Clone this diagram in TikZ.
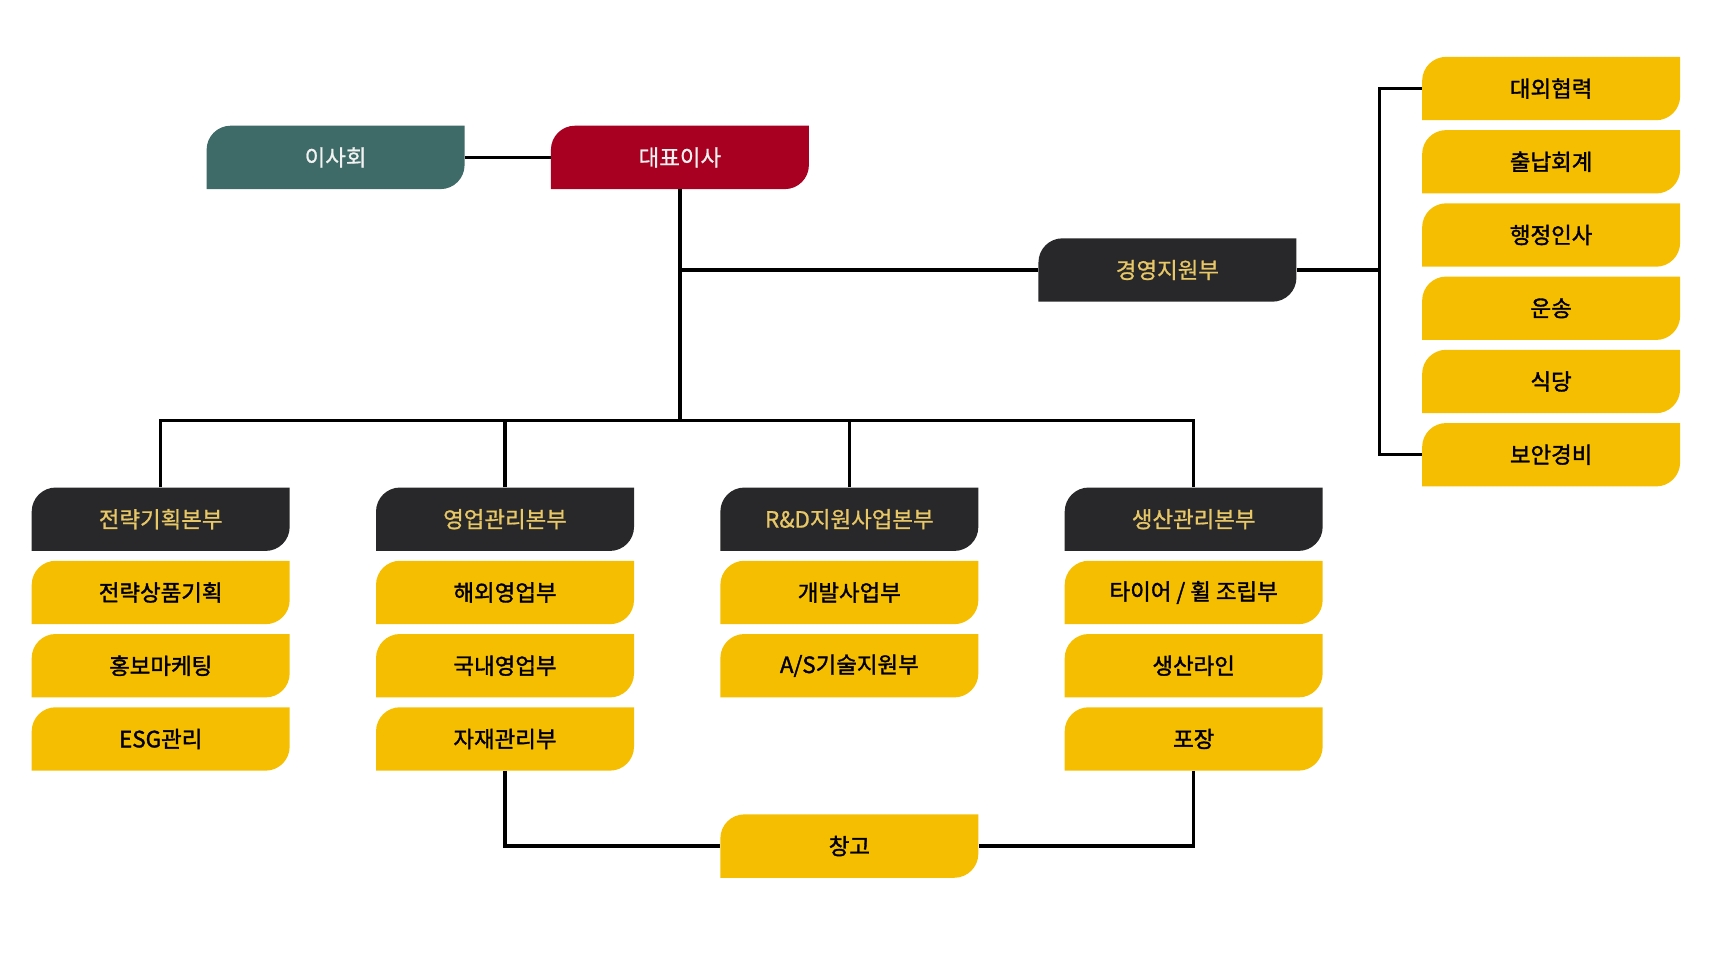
\documentclass[tikz,border=0pt]{standalone}
\usepackage{fontspec}
\setmainfont{Noto Sans CJK KR}
\newfontfamily\ytxt[FakeBold=1.6]{Noto Sans CJK KR}
\newfontfamily\dtxt[FakeBold=0.9]{Noto Sans CJK KR}
\definecolor{ybox}{HTML}{F6BE00}
\definecolor{dbox}{HTML}{28282A}
\definecolor{tbox}{HTML}{3E6A67}
\definecolor{rbox}{HTML}{A80020}
\definecolor{gtext}{HTML}{E8C766}
\definecolor{wtext}{HTML}{F2F2F2}
\tikzset{
  boxtext/.style={inner sep=0pt,minimum width=236pt,minimum height=58pt},
  conn/.style={line width=2.9pt,draw=black}
}
% #1 name, #2 cx, #3 cy (downward), #4 fill, #5 text colour, #6 font family, #7 text
\newcommand\obox[7]{%
  \fill[#4] ({#2-118},{-(#3)-29}) -- ({#2-118},{-(#3)+7}) arc(180:90:22pt) -- ({#2+118},{-(#3)+29}) -- ({#2+118},{-(#3)-7}) arc(0:-90:22pt) -- cycle;
  \node[boxtext,text=#5,font=#6\fontsize{20.5}{24}\selectfont] (#1) at (#2,{-(#3)}) {#7};}
\begin{document}
\begin{tikzpicture}[x=1pt,y=1pt]
\useasboundingbox (0,0) rectangle (1568,-874.6);
% top
\obox{board}{307}{144}{tbox}{wtext}{\dtxt}{이사회}
\obox{ceo}{622}{144}{rbox}{wtext}{\dtxt}{대표이사}
\obox{mgmt}{1068}{247}{dbox}{gtext}{\dtxt}{경영지원부}
% right column
\obox{r1}{1419}{81}{ybox}{black}{\ytxt}{대외협력}
\obox{r2}{1419}{148}{ybox}{black}{\ytxt}{출납회계}
\obox{r3}{1419}{215}{ybox}{black}{\ytxt}{행정인사}
\obox{r4}{1419}{282}{ybox}{black}{\ytxt}{운송}
\obox{r5}{1419}{349}{ybox}{black}{\ytxt}{식당}
\obox{r6}{1419}{416}{ybox}{black}{\ytxt}{보안경비}
% headers
\obox{h1}{147}{475}{dbox}{gtext}{\dtxt}{전략기획본부}
\obox{h2}{462}{475}{dbox}{gtext}{\dtxt}{영업관리본부}
\obox{h3}{777}{475}{dbox}{gtext}{\dtxt}{R\&D지원사업본부}
\obox{h4}{1092}{475}{dbox}{gtext}{\dtxt}{생산관리본부}
% subs
\obox{s11}{147}{542}{ybox}{black}{\ytxt}{전략상품기획}
\obox{s12}{147}{609}{ybox}{black}{\ytxt}{홍보마케팅}
\obox{s13}{147}{676}{ybox}{black}{\ytxt}{ESG관리}
\obox{s21}{462}{542}{ybox}{black}{\ytxt}{해외영업부}
\obox{s22}{462}{609}{ybox}{black}{\ytxt}{국내영업부}
\obox{s23}{462}{676}{ybox}{black}{\ytxt}{자재관리부}
\obox{s31}{777}{542}{ybox}{black}{\ytxt}{개발사업부}
\obox{s32}{777}{609}{ybox}{black}{\ytxt}{A/S기술지원부}
\obox{s41}{1092}{542}{ybox}{black}{\ytxt}{타이어 / 휠 조립부}
\obox{s42}{1092}{609}{ybox}{black}{\ytxt}{생산라인}
\obox{s43}{1092}{676}{ybox}{black}{\ytxt}{포장}
\obox{wh}{777}{774}{ybox}{black}{\ytxt}{창고}
% connectors
\coordinate (hub) at (622,-385);
\coordinate (rbus) at (1262,-247);
\draw[conn] (board.east) -- (ceo.west);
\draw[conn] (ceo.south) -- (hub);
\draw[conn] (ceo.south |- mgmt.west) -- (mgmt.west);
\draw[conn] (mgmt.east) -- (rbus);
\draw[conn] (r1.west) -| (rbus) |- (r6.west);
\draw[conn] (h1.north) |- (hub) -| (h4.north);
\draw[conn] (h2.north) -- (h2.north |- hub);
\draw[conn] (h3.north) -- (h3.north |- hub);
\draw[conn] (s23.south) |- (wh.west);
\draw[conn] (s43.south) |- (wh.east);
\end{tikzpicture}
\end{document}
